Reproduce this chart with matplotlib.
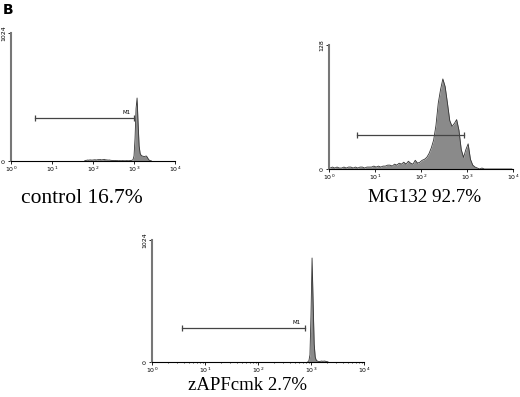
import numpy as np
import matplotlib
matplotlib.use('Agg')
from matplotlib import pyplot as plt

# histogram data: log10 bin centres start + step, counts per bin
ctrl_start, ctrl_step = 1.80, 0.025
ctrl_counts = [3, 5, 6, 8, 6, 9, 8, 7,
               8, 9, 10, 8, 9, 11, 10, 12, 9, 10, 11, 13, 10, 9, 8, 7, 8, 6, 5, 4,
               4, 3, 4, 3, 3, 2, 3, 2, 2, 3, 2, 2, 2, 3, 2, 2, 3, 4, 6, 10,
               40, 180, 420, 504, 300, 120, 60, 45,
               40, 38, 35, 38, 40, 30, 15, 6, 3, 1]

mg_start, mg_step = 0.025, 0.05
mg_counts = [1, 2, 1, 2, 1, 1, 2, 1, 2, 2, 1, 2, 1, 2, 2, 1, 2, 2,
             2, 3, 2, 3, 2, 3, 3, 4,
             4, 3, 5, 4, 6, 5,
             7, 5, 8, 6, 5, 9, 6, 7,
             9, 10, 12, 16, 22, 30, 45, 68, 82, 93, 85, 68, 50, 44, 47, 51,
             40, 20, 12, 20, 26, 10, 4, 2,
             1, 0, 1, 0, 0, 0, 0, 0, 0, 0, 0, 0, 0, 0, 0, 0]

zapf_start, zapf_step = 2.94, 0.02
zapf_counts = [2, 10, 60, 400, 873, 500, 150, 40, 15, 8, 5, 4, 6, 8, 6, 7, 8, 5, 3, 2]

# M1 gates: (log low, log high, height)
ctrl_gate = (0.585, 3.0, 344)
mg_gate = (0.61, 2.93, 35)
zapf_gate = (0.57, 2.89, 285)

captions = ['control 16.7%', 'MG132 92.7%', 'zAPFcmk 2.7%']
ymaxes = [1024, 128, 1024]

fig = plt.figure(figsize=(5.2, 3.97), dpi=100)

boxes = [[11/520, 1-161/397, 164/520, 128/397],
         [329/520, 1-169/397, 184/520, 124/397],
         [152/520, 1-362/397, 212/520, 122/397]]
hists = [(ctrl_start, ctrl_step, ctrl_counts),
         (mg_start, mg_step, mg_counts),
         (zapf_start, zapf_step, zapf_counts)]
gates = [ctrl_gate, mg_gate, zapf_gate]
show_m1 = [True, False, True]

for box, (start, step, counts), gate, ymax, m1 in zip(boxes, hists, gates, ymaxes, show_m1):
    ax = fig.add_axes(box)
    logs = start + step*np.arange(len(counts))
    x = 10**logs
    ax.fill_between(x, counts, color='#8a8a8a', lw=0)
    ax.plot(x, counts, color='#333333', lw=0.6)
    ax.plot([10**gate[0], 10**gate[1]], [gate[2], gate[2]], color='#444444', lw=0.9,
            marker='|', ms=4, mew=0.9)
    if m1:
        ax.text(10**(gate[1]-0.17), gate[2]+ymax*0.025, 'M1', fontsize=4, ha='center', va='bottom')
    ax.set_xscale('log')
    ax.set_xlim(1, 1e4)
    ax.set_ylim(0, ymax)
    ax.set_xticks([1, 10, 100, 1000, 10000])
    ax.set_xticklabels(['$10^0$', '$10^1$', '$10^2$', '$10^3$', '$10^4$'], fontsize=4.5)
    ax.set_yticks([0, ymax])
    ax.set_yticklabels(['0', str(ymax)], fontsize=4.5, rotation=90, va='center')
    ax.set_yticks([ymax/4, ymax/2, ymax*3/4], minor=True)
    ax.tick_params(which='major', length=2, width=0.6, pad=1)
    ax.tick_params(which='minor', length=1, width=0.5)
    for s in ['top', 'right']:
        ax.spines[s].set_visible(False)
    ax.spines['left'].set_color('#777777')
    ax.spines['left'].set_linewidth(1.5)
    ax.spines['bottom'].set_linewidth(0.8)

fig.text(82/520, 1-198/397, captions[0], fontsize=15.5, family='Liberation Serif', ha='center', va='center')
fig.text(425/520, 1-197/397, captions[1], fontsize=13.8, family='Liberation Serif', ha='center', va='center')
fig.text(248/520, 1-385/397, captions[2], fontsize=13.5, family='Liberation Serif', ha='center', va='center')
fig.text(3/520, 1-10/397, 'B', fontsize=10, fontweight='bold', ha='left', va='center')

plt.savefig('out.png', dpi=100)
